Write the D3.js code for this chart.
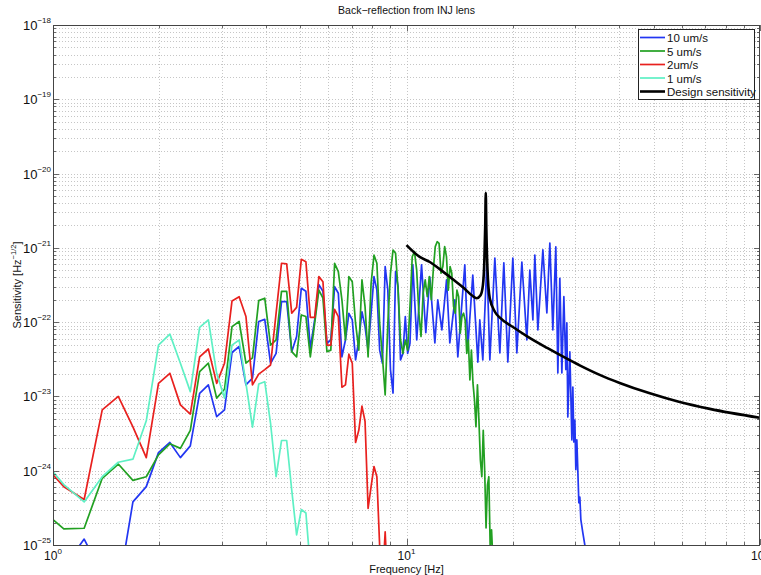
<!DOCTYPE html>
<html>
<head>
<meta charset="utf-8">
<script src="https://cdn.jsdelivr.net/npm/d3@7"></script>
<style>
body { margin: 0; background: #fff; }
svg { display: block; font-family: "Liberation Sans", Arial, sans-serif; }
</style>
</head>
<body>
<svg id="chart" width="761" height="575"></svg>
<script>
// frequency bins [Hz] (first one is the left edge of the plot)
var binFreq = [1.0, 1.073, 1.225, 1.378, 1.530, 1.683, 1.836, 1.988, 2.141, 2.293,
  2.446, 2.599, 2.751, 2.904, 3.056, 3.209, 3.362, 3.514, 3.667, 3.819,
  3.972, 4.125, 4.277, 4.430, 4.582, 4.735, 4.888, 5.040, 5.193, 5.345,
  5.498, 5.651, 5.803, 5.956, 6.108, 6.261, 6.414, 6.566, 6.719, 6.871,
  7.024, 7.177, 7.329, 7.482, 7.634, 7.787, 7.940, 8.092, 8.245, 8.397,
  8.550, 8.703, 8.855, 9.008, 9.160, 9.313, 9.466, 9.618, 9.771, 9.923,
  10.076, 10.229, 10.381, 10.534, 10.686, 10.839, 10.992, 11.144, 11.297, 11.449,
  11.602, 11.755, 11.907, 12.060, 12.212, 12.365, 12.518, 12.670, 12.823, 12.975,
  13.128, 13.281, 13.433, 13.586, 13.738, 13.891, 14.044, 14.196, 14.349, 14.501,
  14.654, 14.807, 14.959, 15.112, 15.264, 15.417, 15.570, 15.722, 15.875, 16.027,
  16.180, 16.333, 16.485, 16.638, 16.790, 16.943, 17.096, 17.248, 17.401, 17.553];

// 10 um/s, on the bins up to ~10.2 Hz
var blue10 = [3e-26, 5e-26, 1.2e-25, 4e-26, 2.5e-26, 3.8e-25, 6.1e-25, 1.75e-24, 2.4e-24, 1.5e-24,
  2.16e-24, 1.1e-23, 1.43e-23, 5.35e-24, 6.6e-24, 3.9e-23, 4.7e-23, 1.43e-23, 1.76e-23, 1.02e-22,
  1.09e-22, 2.8e-23, 3.8e-23, 1.89e-22, 1.89e-22, 4.0e-23, 6.4e-23, 2.86e-22, 2.6e-22, 4.45e-23,
  1.07e-22, 3.2e-22, 2.6e-22, 5.2e-23, 5.75e-23, 3.0e-22, 2.45e-22, 3.4e-23, 5.75e-23, 1.31e-22,
  1.07e-22, 3.1e-23, 5.75e-23, 1.38e-22, 8.7e-23, 4.2e-23, 1.31e-22, 4.1e-22, 2.7e-22, 4.2e-23,
  2.8e-23, 5.6e-22, 2.7e-22, 2.3e-23, 1.11e-23, 4.8e-22, 3.0e-22, 3.1e-23, 3.8e-23, 1.19e-22,
  3.8e-23, 5.2e-23];
// 10 um/s above 10 Hz, peaks and troughs
var blue10TailFreq = [10.42, 10.69, 11.03, 11.34, 11.64, 12.03, 12.26, 12.59, 12.98, 13.26,
  13.70, 13.97, 14.62, 14.91, 15.40, 15.92, 16.12, 16.44, 16.88, 17.21,
  17.78, 18.37, 18.85, 19.35, 19.99, 20.52, 21.20, 21.90, 22.33, 22.78,
  23.07, 23.53, 24.31, 24.95, 25.44, 25.94, 26.45, 26.80, 27.15, 27.51,
  27.87, 28.23, 28.42, 28.60, 28.98, 29.36, 29.55, 29.74, 29.94, 30.13,
  30.33, 30.73, 30.93, 31.13, 31.54, 31.95, 32.6];
var blue10Tail = [5.9e-22, 5.75e-23, 5.9e-22, 7.2e-23, 4.05e-22, 5.25e-23, 2.0e-22, 7.85e-23, 3.7e-22, 5.25e-23,
  2.0e-22, 3.4e-23, 5.9e-22, 4.6e-23, 4.3e-22, 2.9e-23, 1.07e-22, 3.1e-23, 6.45e-22, 3.1e-23,
  7.3e-22, 3.85e-23, 6.3e-22, 2.9e-23, 7.3e-22, 3.85e-23, 6.45e-22, 5.75e-23, 5.0e-22, 1.07e-22,
  8.0e-22, 7.85e-23, 9.4e-22, 1.33e-22, 1.16e-21, 7.85e-23, 1.03e-21, 2.07e-23, 3.9e-22, 2.07e-23,
  2.2e-22, 2.3e-23, 9.75e-23, 5.3e-24, 3.97e-23, 2.6e-24, 1.34e-23, 2.44e-24, 4.8e-24, 1.03e-24,
  2.6e-24, 3.7e-25, 4.4e-25, 2.2e-25, 1.46e-25, 1.0e-25, 1.8e-26];

// 5 um/s
var green5 = [2.2e-25, 1.65e-25, 1.68e-25, 7.9e-25, 1.23e-24, 7.4e-25, 8.3e-25, 1.63e-24, 2.3e-24, 2.0e-24,
  3.5e-24, 2.16e-23, 2.8e-23, 9.5e-24, 1.25e-23, 8.7e-23, 1.02e-22, 2.8e-23, 3.3e-23, 1.95e-22,
  2.1e-22, 4.9e-23, 5.75e-23, 2.6e-22, 2.6e-22, 4.0e-23, 3.4e-23, 1.25e-22, 1.19e-22, 3.4e-23,
  9.6e-23, 2.7e-22, 2.1e-22, 4.0e-23, 4.2e-23, 6.2e-22, 4.8e-22, 2.0e-22, 5.75e-23, 4.1e-22,
  3.5e-22, 9.6e-23, 4.2e-23, 3.7e-22, 1.62e-22, 3.4e-23, 3.3e-22, 8.0e-22, 6.2e-22, 9.6e-23,
  3.4e-23, 1.05e-23, 9.6e-23, 4.5e-22, 9.35e-22, 8.45e-22, 2.7e-22, 5.75e-23, 3.8e-23, 5.75e-23,
  4.2e-23, 1.62e-22, 7.6e-22, 8.9e-22, 5.0e-22, 1.33e-22, 6.4e-23, 2.45e-22, 3.7e-22, 2.2e-22,
  4.1e-22, 2.0e-22, 5.05e-22, 1.04e-21, 1.21e-21, 1.15e-21, 4.55e-22, 5.6e-22, 1.04e-21, 7.6e-22,
  2.7e-22, 5.6e-22, 4.55e-22, 1.62e-22, 1.32e-22, 2.7e-22, 2.2e-22, 7.1e-23, 1.19e-22, 1.32e-22,
  1.07e-22, 3.8e-23, 5.75e-23, 1.67e-23, 4.2e-23, 1.52e-23, 9.0e-24, 3.9e-24, 1.43e-23, 4.8e-24,
  1.4e-24, 8.3e-25, 3.5e-24, 1.03e-24, 1.7e-25, 6.4e-25, 8.3e-25, 9.3e-26, 1.6e-25, 6.3e-26];

// 2 um/s
var red2 = [8.8e-25, 6.1e-25, 4.1e-25, 6.6e-24, 1.0e-23, 3.9e-24, 1.5e-24, 1.5e-23, 2.05e-23, 7.7e-24,
  5.8e-24, 3.4e-23, 4.35e-23, 1.5e-23, 2.8e-23, 1.93e-22, 2.2e-22, 1.19e-22, 1.43e-23, 2.0e-23,
  2.3e-23, 2.65e-23, 1.32e-22, 6.2e-22, 6.1e-22, 1.32e-22, 1.58e-22, 7.0e-22, 6.5e-22, 1.16e-22,
  1.16e-22, 4.1e-22, 3.5e-22, 4.9e-23, 4.9e-23, 1.49e-22, 1.19e-22, 1.33e-23, 1.43e-23, 3.7e-23,
  2.8e-23, 2.4e-24, 3.5e-24, 7.4e-24, 4.6e-24, 3.1e-25, 6.1e-25, 1.14e-24, 8.3e-25, 9.5e-26,
  3.2e-26, 1.5e-25, 2.5e-26];

// 1 um/s
var cyan1 = [9.7e-25, 6.5e-25, 3.8e-25, 8.3e-25, 1.3e-24, 1.43e-24, 4.7e-24, 4.9e-23, 6.9e-23, 2.8e-23,
  1.16e-23, 8.5e-23, 1.07e-22, 2.05e-23, 9.5e-24, 4.9e-23, 5.75e-23, 1.5e-23, 3.85e-24, 1.47e-23,
  1.58e-23, 4.35e-24, 8.3e-25, 2.55e-24, 2.55e-24, 5.5e-25, 1.37e-25, 3.0e-25, 2.7e-25, 5e-26];

// design sensitivity
var designFreq = [10.0, 10.9, 11.64, 12.5, 13.5, 14.5, 15.3, 15.8, 16.2, 16.45,
  16.6, 16.7, 16.76, 16.82, 16.95, 17.2, 17.8, 18.4, 20.0, 22.0,
  25.0, 28.0, 31.0, 35.2, 40.1, 48.8, 59.3, 72.1, 100.0];
var designVal = [1.09e-21, 7.55e-22, 6.45e-22, 5.05e-22, 3.8e-22, 2.9e-22, 2.3e-22, 2.1e-22, 2.3e-22, 3.15e-22,
  6.45e-22, 2.0e-21, 5.5e-21, 1.85e-21, 5.05e-22, 2.1e-22, 1.37e-22, 1.14e-22, 8.6e-23, 6.4e-23,
  4.5e-23, 3.35e-23, 2.6e-23, 1.95e-23, 1.52e-23, 1.1e-23, 8.4e-24, 6.8e-24, 5.15e-24];

var legendNames = ["10 um/s", "5 um/s", "2um/s", "1 um/s", "Design sensitivity"];
var lineColors = ["#2236f2", "#22a022", "#e8201e", "#5ef0c4", "#000000"];

var xTickExp = [0, 1, 2];
var yTickExp = [-25, -24, -23, -22, -21, -20, -19, -18];

function pairs(freq, vals) {
  return vals.map(function(v, i) { return [freq[i], v]; });
}

var series = [
  pairs(binFreq, blue10).concat(pairs(blue10TailFreq, blue10Tail)),
  pairs(binFreq, green5),
  pairs(binFreq, red2),
  pairs(binFreq, cyan1),
  pairs(designFreq, designVal)
];

var svg = d3.select("#chart");
var margin = {top: 25, right: 1, bottom: 30, left: 53},
    width = +svg.attr("width") - margin.left - margin.right,
    height = +svg.attr("height") - margin.top - margin.bottom;

svg.append("rect").attr("width", 761).attr("height", 575).attr("fill", "#fff");

var g = svg.append("g").attr("transform", "translate(" + margin.left + "," + margin.top + ")");

var x = d3.scaleLog().domain([1, 100]).range([0, width]);
var y = d3.scaleLog().domain([1e-25, 1e-18]).range([height, 0]);

var xTicks = x.ticks();
var yTicks = y.ticks();
var xMajor = xTickExp.map(function(e) { return Math.pow(10, e); });
var yMajor = yTickExp.map(function(e) { return Math.pow(10, e); });

// dotted grid
g.append("g").selectAll("line")
    .data(xTicks.filter(function(d) { return d > 1 && d < 100; }))
  .enter().append("line")
    .attr("x1", function(d) { return Math.round(x(d)) + 0.5; })
    .attr("x2", function(d) { return Math.round(x(d)) + 0.5; })
    .attr("y1", 0).attr("y2", height)
    .attr("stroke", "#b8b8b8").attr("stroke-width", 0.8)
    .attr("stroke-dasharray", "1,2");
g.append("g").selectAll("line")
    .data(yTicks.filter(function(d) { return d > 1e-25 * 1.01 && d < 1e-18 * 0.99; }))
  .enter().append("line")
    .attr("y1", function(d) { return Math.round(y(d)) + 0.5; })
    .attr("y2", function(d) { return Math.round(y(d)) + 0.5; })
    .attr("x1", 0).attr("x2", width)
    .attr("stroke", "#b8b8b8").attr("stroke-width", 0.8)
    .attr("stroke-dasharray", "1,2");

// lines, clipped to the axes box
g.append("clipPath").attr("id", "plotclip")
  .append("rect").attr("width", width).attr("height", height);

var line = d3.line()
    .x(function(d) { return x(d[0]); })
    .y(function(d) { return y(d[1]); });

var plot = g.append("g").attr("clip-path", "url(#plotclip)");
series.forEach(function(s, i) {
  plot.append("path")
      .datum(s)
      .attr("fill", "none")
      .attr("stroke", lineColors[i])
      .attr("stroke-width", i === 4 ? 2.6 : 1.7)
      .attr("stroke-linejoin", "round")
      .attr("d", i === 4 ? line.curve(d3.curveMonotoneX)(s) : line.curve(d3.curveLinear)(s));
});

// axes box with inward ticks
function tickLen(d) {
  return Math.abs(Math.log10(d) - Math.round(Math.log10(d))) < 1e-6 ? 6 : 3;
}
var ticks = g.append("g").attr("stroke", "#444").attr("stroke-width", 0.8);
xTicks.forEach(function(d) {
  var px = Math.round(x(d)) + 0.5;
  ticks.append("line").attr("x1", px).attr("x2", px).attr("y1", height).attr("y2", height - tickLen(d));
  ticks.append("line").attr("x1", px).attr("x2", px).attr("y1", 0).attr("y2", tickLen(d));
});
yTicks.forEach(function(d) {
  var py = Math.round(y(d)) + 0.5;
  ticks.append("line").attr("y1", py).attr("y2", py).attr("x1", 0).attr("x2", tickLen(d));
  ticks.append("line").attr("y1", py).attr("y2", py).attr("x1", width).attr("x2", width - tickLen(d));
});
g.append("rect")
    .attr("x", 0.5).attr("y", 0.5)
    .attr("width", width - 1).attr("height", height)
    .attr("fill", "none").attr("stroke", "#444").attr("stroke-width", 1);

// tick labels 10^n
var yLab = g.append("g").selectAll("text")
    .data(yMajor)
  .enter().append("text")
    .attr("x", -2)
    .attr("y", function(d) { return y(d) + 5; })
    .attr("text-anchor", "end")
    .attr("font-size", "13px")
    .attr("fill", "#111");
yLab.append("tspan").text("10");
yLab.append("tspan").attr("dy", "-7").attr("font-size", "8px")
    .text(function(d, i) { return "\u2212" + Math.abs(yTickExp[i]); });

var xLab = g.append("g").selectAll("text")
    .data(xMajor)
  .enter().append("text")
    .attr("x", function(d) { return x(d); })
    .attr("y", height + 15)
    .attr("text-anchor", "middle")
    .attr("font-size", "12px")
    .attr("fill", "#111");
xLab.append("tspan").text("10");
xLab.append("tspan").attr("dy", "-6").attr("font-size", "8px")
    .text(function(d, i) { return xTickExp[i]; });

// axis titles
svg.append("text")
    .attr("x", margin.left + width / 2).attr("y", 14)
    .attr("text-anchor", "middle").attr("font-size", "10.5px").attr("fill", "#111")
    .text("Back\u2212reflection from INJ lens");
svg.append("text")
    .attr("x", margin.left + width / 2).attr("y", 573)
    .attr("text-anchor", "middle").attr("font-size", "11px").attr("fill", "#111")
    .text("Frequency [Hz]");
var yTitle = svg.append("text")
    .attr("transform", "translate(21," + (margin.top + height / 2) + ") rotate(-90)")
    .attr("text-anchor", "middle").attr("font-size", "11px").attr("fill", "#111");
yTitle.append("tspan").text("Sensitivity [Hz");
yTitle.append("tspan").attr("dy", "-5").attr("font-size", "7.5px").text("\u22121/2");
yTitle.append("tspan").attr("dy", "5").text("]");

// legend
var leg = svg.append("g").attr("transform", "translate(638,29)");
leg.append("rect").attr("x", 0.5).attr("y", 0.5).attr("width", 116).attr("height", 70)
    .attr("fill", "#fff").attr("stroke", "#222").attr("stroke-width", 1);
var item = leg.selectAll("g.item")
    .data(legendNames)
  .enter().append("g")
    .attr("transform", function(d, i) { return "translate(0," + (8.5 + i * 13.5) + ")"; });
item.append("line")
    .attr("x1", 2).attr("x2", 27)
    .attr("stroke", function(d, i) { return lineColors[i]; })
    .attr("stroke-width", function(d, i) { return i === 4 ? 2.6 : 1.7; });
item.append("text")
    .attr("x", 29).attr("y", 4.5)
    .attr("font-size", "11.5px").attr("fill", "#111")
    .text(function(d) { return d; });
</script>
</body>
</html>
